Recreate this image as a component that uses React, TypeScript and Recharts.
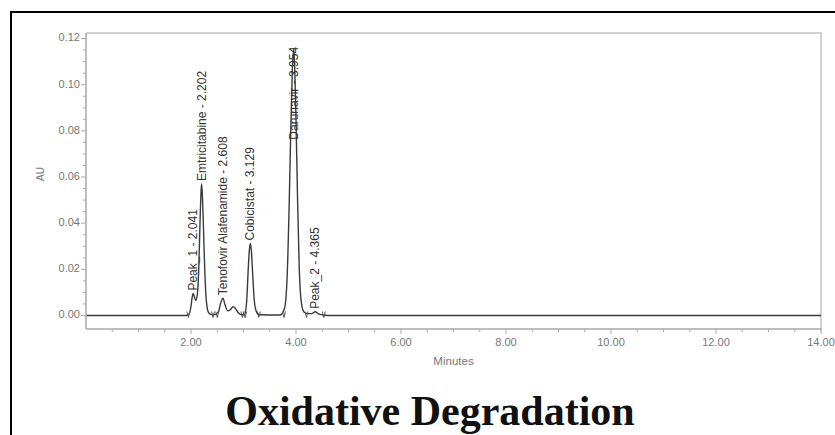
import React from 'react';
import { ComposedChart, Line, Scatter, XAxis, YAxis } from 'recharts';

// Chromatogram trace: retention time (min) against absorbance (AU)
const minutes = [
  0, 1.9, 1.96, 2.0, 2.02, 2.041, 2.06, 2.09, 2.12, 2.15, 2.175, 2.19, 2.202, 2.215, 2.235, 2.26, 2.29,
  2.33, 2.38, 2.45, 2.52, 2.56, 2.608, 2.65, 2.7, 2.75, 2.8, 2.84, 2.9, 2.97, 3.02, 3.06, 3.09, 3.11,
  3.129, 3.15, 3.175, 3.2, 3.24, 3.3, 3.7, 3.78, 3.83, 3.87, 3.9, 3.93, 3.954, 3.975, 4.0, 4.03, 4.06,
  4.1, 4.15, 4.22, 4.3, 4.365, 4.42, 4.52, 4.6, 14,
];
const absorbance = [
  0, 0, 0.0005, 0.004, 0.0075, 0.0095, 0.0085, 0.0065, 0.009, 0.022, 0.043, 0.053, 0.057, 0.053, 0.04,
  0.021, 0.007, 0.0015, 0.0005, 0.0004, 0.0015, 0.005, 0.0075, 0.0045, 0.002, 0.0025, 0.0038, 0.0032,
  0.0012, 0.0003, 0.0004, 0.006, 0.02, 0.028, 0.0312, 0.028, 0.018, 0.008, 0.002, 0.0003, 0.0002, 0.003,
  0.016, 0.048, 0.08, 0.106, 0.1155, 0.108, 0.085, 0.05, 0.022, 0.006, 0.0015, 0.0008, 0.0008, 0.0016,
  0.0008, 0.0002, 0, 0,
];

// Integrated peaks (name, retention time, apex height)
const peakNames = ['Peak_1', 'Emtricitabine', 'Tenofovir Alafenamide', 'Cobicistat', 'Darunavir', 'Peak_2'];
const peakTimes = [2.041, 2.202, 2.608, 3.129, 3.954, 4.365];
const peakHeights = [0.0095, 0.057, 0.0075, 0.0312, 0.1155, 0.0016];

// Integration start / end marks on the baseline
const markTimes = [1.95, 2.42, 2.5, 2.98, 3.03, 3.29, 3.77, 4.2, 4.53];

const xTicks = [
  0.5, 1, 1.5, 2, 2.5, 3, 3.5, 4, 4.5, 5, 5.5, 6, 6.5, 7, 7.5, 8, 8.5, 9, 9.5, 10, 10.5, 11, 11.5, 12,
  12.5, 13, 13.5, 14,
];
const xLabelTicks = [2, 4, 6, 8, 10, 12, 14];
const yTicks = [
  0, 0.005, 0.01, 0.015, 0.02, 0.025, 0.03, 0.035, 0.04, 0.045, 0.05, 0.055, 0.06, 0.065, 0.07, 0.075,
  0.08, 0.085, 0.09, 0.095, 0.1, 0.105, 0.11, 0.115, 0.12,
];
const yLabelTicks = [0, 0.02, 0.04, 0.06, 0.08, 0.1, 0.12];

const trace = minutes.map((t, i) => ({ t, au: absorbance[i] }));
const peaks = peakNames.map((name, i) => ({ name, t: peakTimes[i], au: peakHeights[i] }));
const marks = markTimes.map((t) => ({ t, au: 0 }));

const PLOT_TOP = 33;
const AXIS = '#a9a9a9';
const TICK_TEXT = '#777';
const SANS = '"Liberation Sans", Arial, sans-serif';
const PEAK_FONT = 12;

const isLabelled = (list: number[], v: number) => list.some((l) => Math.abs(l - v) < 1e-9);

const XTick = (props: any) => {
  const { x, y, payload } = props;
  const major = isLabelled(xLabelTicks, payload.value);
  return (
    <g>
      <line x1={x} y1={y} x2={x} y2={y + (major ? 5 : 3)} stroke={AXIS} strokeWidth={1} />
      {major && (
        <text x={x} y={y + 14} textAnchor="middle" dominantBaseline="middle" fontSize={11} fill={TICK_TEXT} fontFamily={SANS}>
          {payload.value.toFixed(2)}
        </text>
      )}
    </g>
  );
};

const YTick = (props: any) => {
  const { x, y, payload } = props;
  const major = isLabelled(yLabelTicks, payload.value);
  return (
    <g>
      <line x1={x} y1={y} x2={x - (major ? 5 : 3)} y2={y} stroke={AXIS} strokeWidth={1} />
      {major && (
        <text x={x - 6} y={y} textAnchor="end" dominantBaseline="middle" fontSize={11} fill={TICK_TEXT} fontFamily={SANS}>
          {payload.value.toFixed(2)}
        </text>
      )}
    </g>
  );
};

// Vertical peak label; hangs down from the apex when it would run past the frame
const PeakLabel = (props: any) => {
  const { cx, cy, payload } = props;
  const text = `${payload.name} - ${payload.t.toFixed(3)}`;
  const est = text.length * PEAK_FONT * 0.52;
  const above = cy - 3 - est > PLOT_TOP + 6;
  const y = above ? cy - 3 : cy - 2;
  return (
    <text
      x={cx}
      y={y}
      transform={`rotate(-90 ${cx} ${y})`}
      textAnchor={above ? 'start' : 'end'}
      dominantBaseline="central"
      fontSize={PEAK_FONT}
      fill="#333"
      fontFamily={SANS}
    >
      {text}
    </text>
  );
};

const IntegrationMark = (props: any) => {
  const { cx, cy } = props;
  return <path d={`M${cx - 1.5},${cy - 4} L${cx},${cy + 2} L${cx + 1.5},${cy - 4}`} fill="none" stroke="#555" strokeWidth={1} />;
};

export default function App() {
  return (
    <div style={{ position: 'absolute', left: 0, top: 0, width: 835, height: 435, background: '#fff', overflow: 'hidden' }}>
      <div
        style={{
          position: 'absolute',
          left: 10,
          top: 11,
          width: 830,
          height: 430,
          borderTop: '2.5px solid #000',
          borderLeft: '2.5px solid #000',
        }}
      />
      {/* top and right edges of the plot frame */}
      <div
        style={{
          position: 'absolute',
          left: 86,
          top: 32,
          width: 734,
          height: 297,
          borderTop: '2px solid #d2d2d2',
          borderRight: '2px solid #d2d2d2',
        }}
      />
      <div style={{ position: 'absolute', left: 0, top: 0 }}>
        <ComposedChart width={835} height={435} margin={{ top: 33, right: 14, left: 26, bottom: 70 }}>
          <XAxis
            dataKey="t"
            type="number"
            domain={[0, 14]}
            ticks={xTicks}
            interval={0}
            tick={<XTick />}
            tickLine={false}
            tickSize={0}
            tickMargin={0}
            height={36}
            stroke={AXIS}
            strokeWidth={1.5}
            label={{ value: 'Minutes', position: 'insideBottom', offset: 0, fontSize: 11.5, fill: TICK_TEXT, fontFamily: SANS }}
          />
          <YAxis
            type="number"
            domain={[-0.00585, 0.1224]}
            ticks={yTicks}
            interval={0}
            tick={<YTick />}
            tickLine={false}
            tickSize={0}
            tickMargin={0}
            width={60}
            stroke={AXIS}
            strokeWidth={1.5}
            label={{ value: 'AU', angle: -90, position: 'insideLeft', offset: 14, fontSize: 10, fill: TICK_TEXT, fontFamily: SANS }}
          />
          <Line
            data={trace}
            dataKey="au"
            type="monotone"
            stroke="#3a3a3a"
            strokeWidth={1.4}
            dot={false}
            isAnimationActive={false}
          />
          <Scatter data={marks} dataKey="au" shape={<IntegrationMark />} isAnimationActive={false} />
          <Scatter data={peaks} dataKey="au" shape={<PeakLabel />} isAnimationActive={false} />
        </ComposedChart>
      </div>
      <div
        style={{
          position: 'absolute',
          left: 0,
          top: 390,
          width: 860,
          textAlign: 'center',
          fontFamily: '"Liberation Serif", "Times New Roman", serif',
          fontWeight: 'bold',
          fontSize: 42,
          lineHeight: '42px',
          color: '#111',
        }}
      >
        Oxidative Degradation
      </div>
    </div>
  );
}
